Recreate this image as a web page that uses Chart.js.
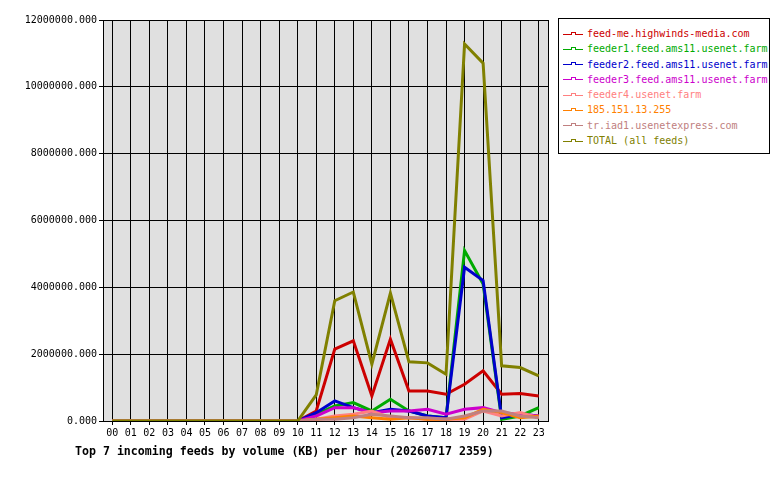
<!DOCTYPE html>
<html>
<head>
<meta charset="utf-8">
<script src="https://cdn.jsdelivr.net/npm/chart.js@4/dist/chart.umd.min.js"></script>
<style>
  body { margin: 0; background: #fff; font-family: "DejaVu Sans Mono", monospace; }
  #wrap { position: relative; width: 780px; height: 480px; }
  #legend { position: absolute; left: 558px; top: 18px; width: 212px; border: 1px solid #000; background: #fff;
            font-size: 10px; padding: 7px 0 5px 4px; box-sizing: border-box; }
  #legend div { height: 15.3px; line-height: 15px; white-space: nowrap; }
  #legend span.sw { display: inline-block; width: 20px; height: 1px; vertical-align: middle; margin-right: 4px; position: relative; background: currentColor; }
  #legend span.sw i { position: absolute; left: 8px; top: -2px; width: 3px; height: 2px; border: 1px solid currentColor; border-bottom: none; background: #fff; }
  #title { position: absolute; left: 75px; top: 444px; font-size: 11.6px; font-weight: bold; }
</style>
</head>
<body>
<div id="wrap">
  <canvas id="c" width="780" height="480"></canvas>
  <div id="legend"></div>
  <div id="title">Top 7 incoming feeds by volume (KB) per hour (20260717 2359)</div>
</div>
<script>
const hours = ['00','01','02','03','04','05','06','07','08','09','10','11','12','13','14','15','16','17','18','19','20','21','22','23'];
const yTicks = [0, 2000000, 4000000, 6000000, 8000000, 10000000, 12000000];
const zeros = [0,0,0,0,0,0,0,0,0,0,0];

const highwinds = zeros.concat([300000, 2150000, 2400000, 750000, 2450000, 900000, 900000, 800000, 1100000, 1500000, 800000, 820000, 750000]);
const feeder1   = zeros.concat([200000, 450000, 550000, 300000, 650000, 300000, 150000, 100000, 5100000, 4100000, 50000, 150000, 400000]);
const feeder2   = zeros.concat([250000, 600000, 400000, 250000, 350000, 300000, 150000, 100000, 4600000, 4200000, 100000, 200000, 150000]);
const feeder3   = zeros.concat([150000, 400000, 400000, 250000, 300000, 300000, 350000, 200000, 350000, 400000, 250000, 200000, 150000]);
const feeder4   = zeros.concat([50000, 150000, 200000, 300000, 100000, 100000, 50000, 50000, 50000, 300000, 150000, 250000, 100000]);
const ip185     = zeros.concat([50000, 100000, 150000, 100000, 50000, 100000, 50000, 50000, 100000, 350000, 250000, 100000, 150000]);
const triad1    = zeros.concat([50000, 50000, 100000, 200000, 150000, 100000, 100000, 50000, 150000, 300000, 300000, 150000, 100000]);
const total     = zeros.concat([780000, 3600000, 3860000, 1700000, 3830000, 1770000, 1740000, 1400000, 11280000, 10710000, 1650000, 1600000, 1350000]);

const series = [
  ['feed-me.highwinds-media.com', highwinds, '#cc0000'],
  ['feeder1.feed.ams11.usenet.farm', feeder1, '#00aa00'],
  ['feeder2.feed.ams11.usenet.farm', feeder2, '#0000cc'],
  ['feeder3.feed.ams11.usenet.farm', feeder3, '#cc00cc'],
  ['feeder4.usenet.farm', feeder4, '#ff8080'],
  ['185.151.13.255', ip185, '#ff8000'],
  ['tr.iad1.usenetexpress.com', triad1, '#c08080'],
  ['TOTAL (all feeds)', total, '#808000']
];

const legendEl = document.getElementById('legend');
legendEl.innerHTML = series.map(s => `
  <div style="color:${s[2]}"><span class="sw"><i></i></span>${s[0]}</div>`).join('');

const bgPlugin = {
  id: 'bg',
  beforeDraw(chart) {
    const a = chart.chartArea, ctx = chart.ctx;
    ctx.save();
    ctx.fillStyle = '#e0e0e0';
    ctx.fillRect(a.left, a.top, a.right - a.left, a.bottom - a.top);
    ctx.restore();
  },
  afterDraw(chart) {
    const a = chart.chartArea, ctx = chart.ctx;
    ctx.save();
    ctx.strokeStyle = '#000';
    ctx.lineWidth = 1;
    ctx.strokeRect(a.left + 0.5, a.top + 0.5, a.right - a.left, a.bottom - a.top);
    ctx.restore();
  }
};

new Chart(document.getElementById('c'), {
  type: 'line',
  data: {
    labels: hours,
    datasets: series.map(s => ({
      label: s[0], data: s[1], borderColor: s[2], backgroundColor: s[2],
      borderWidth: 3, pointRadius: 0, tension: 0
    })).reverse()
  },
  options: {
    responsive: false,
    animation: false,
    layout: { padding: { top: 20, right: 232, bottom: 37, left: 0 } },
    plugins: { legend: { display: false }, tooltip: { enabled: false } },
    scales: {
      x: {
        offset: true,
        grid: { offset: false, color: '#000', tickLength: 4, drawTicks: true },
        border: { color: '#000' },
        ticks: { color: '#000', font: { family: 'DejaVu Sans Mono', size: 10 }, maxRotation: 0, autoSkip: false, padding: 2 },
        afterFit(scale) { scale.height = 22; }
      },
      y: {
        min: 0, max: 12000000,
        afterBuildTicks(scale) { scale.ticks = yTicks.map(v => ({ value: v })); },
        grid: { color: '#000', tickLength: 4 },
        border: { color: '#000' },
        ticks: { color: '#000', font: { family: 'DejaVu Sans Mono', size: 10 }, padding: 2,
                 callback: v => v.toFixed(3) },
        afterFit(scale) { scale.width = 103; }
      }
    }
  },
  plugins: [bgPlugin]
});
</script>
</body>
</html>
